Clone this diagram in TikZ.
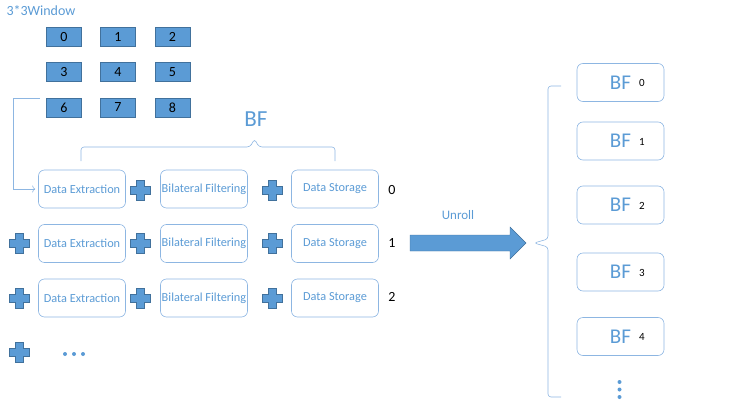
\documentclass[tikz,border=0pt]{standalone}
\usepackage{fontspec}
\setmainfont{Carlito}
\usepackage{tikz}
\usetikzlibrary{positioning,arrows.meta}

\definecolor{cellBlue}{HTML}{5B9BD5}
\definecolor{cellEdge}{HTML}{41719C}
\definecolor{boxEdge}{HTML}{8DB6E2}
\definecolor{textBlue}{HTML}{5B9BD5}

\tikzset{
    cell/.style={draw=cellEdge, fill=cellBlue, minimum width=35pt, minimum height=19pt, inner sep=0pt, font=\fontsize{14}{16}\selectfont},
    stage/.style={draw=boxEdge, line width=0.6pt, rounded corners=6pt, minimum width=87pt, minimum height=38pt, inner sep=0pt, text=textBlue, font=\fontsize{12.3}{14}\selectfont},
    bfbox/.style={draw=boxEdge, line width=0.6pt, rounded corners=6pt, minimum width=87pt, minimum height=38pt, inner sep=0pt, text=textBlue, font=\fontsize{21}{24}\selectfont},
    index/.style={font=\fontsize{14}{16}\selectfont},
    crossmark/.style={minimum size=22pt, inner sep=0pt, path picture={
        \filldraw[fill=cellBlue, draw=cellEdge, line width=0.4pt]
            ([shift={(-4,-10)}]path picture bounding box.center) -- ++(8,0) -- ++(0,6) -- ++(6,0)
            -- ++(0,8) -- ++(-6,0) -- ++(0,6) -- ++(-8,0) -- ++(0,-6) -- ++(-6,0) -- ++(0,-8) -- ++(6,0) -- cycle;}},
}

\newcommand{\bfnum}[1]{BF\rlap{\hspace{8pt}\raisebox{2.5pt}{\color{black}\fontsize{11}{13}\selectfont #1}}}

\begin{document}
\begin{tikzpicture}[x=1pt, y=-1pt]
    \useasboundingbox (0,0) rectangle (741,409);

    \node (windowTitle) at (41,10.5) [text=textBlue, font=\fontsize{14}{16}\selectfont] {3*3Window};
    \node[cell] (cell0) at (64,37) {0};
    \node[cell] (cell1) at (118,37) {1};
    \node[cell] (cell2) at (172.5,37) {2};
    \node[cell] (cell3) at (64,72) {3};
    \node[cell] (cell4) at (118,72) {4};
    \node[cell] (cell5) at (172.5,72) {5};
    \node[cell] (cell6) at (64,107.5) {6};
    \node[cell] (cell7) at (118,107.5) {7};
    \node[cell] (cell8) at (172.5,107.5) {8};
    \coordinate (windowTap) at (40,98);

    \node (bfTitle) at (256,119) [text=textBlue, font=\fontsize{23}{26}\selectfont] {BF};

    \node[stage] (extract0) at (82,189) {Data Extraction};
    \node[crossmark] (plusA0) at (140,190) {};
    \node[stage] (filter0) at (204,189) {Bilateral Filtering};
    \node[crossmark] (plusB0) at (272,190) {};
    \node[stage] (store0) at (335,189) {Data Storage};
    \node[index] (row0) at (392,190) {0};

    \node[crossmark] (plusL1) at (19,243.5) {};
    \node[stage] (extract1) at (82,243.5) {Data Extraction};
    \node[crossmark] (plusA1) at (140,243.5) {};
    \node[stage] (filter1) at (204,243.5) {Bilateral Filtering};
    \node[crossmark] (plusB1) at (272,243.5) {};
    \node[stage] (store1) at (335,243.5) {Data Storage};
    \node[index] (row1) at (392,243) {1};

    \node[crossmark] (plusL2) at (19,298) {};
    \node[stage] (extract2) at (82,298) {Data Extraction};
    \node[crossmark] (plusA2) at (140,298) {};
    \node[stage] (filter2) at (204,298) {Bilateral Filtering};
    \node[crossmark] (plusB2) at (272,298) {};
    \node[stage] (store2) at (335,298) {Data Storage};
    \node[index] (row2) at (392,297) {2};

    \node[crossmark] (plusL3) at (19,352.5) {};
    \foreach \x in {65,74,83}
        \fill[cellBlue] (\x,354) circle (2);

    \node (unrollText) at (458,215) [text=textBlue, font=\fontsize{13}{15}\selectfont] {Unroll};
    \filldraw[fill=cellBlue, draw=cellEdge, line width=0.4pt] (410,235) -- (510,235) -- (510,227) -- (526,243) -- (510,259) -- (510,251) -- (410,251) -- cycle;

    \node[bfbox] (bf0) at (620.5,82.5) {\bfnum{0}};
    \node[bfbox] (bf1) at (620.5,141) {\bfnum{1}};
    \node[bfbox] (bf2) at (620.5,205) {\bfnum{2}};
    \node[bfbox] (bf3) at (620.5,272) {\bfnum{3}};
    \node[bfbox] (bf4) at (620.5,336.5) {\bfnum{4}};
    \foreach \y in {382,389.5,397}
        \fill[cellBlue] (619.5,\y) circle (2);

\draw[boxEdge, line width=0.6pt, -{To[length=3pt, width=7pt]}, shorten >=3pt] (windowTap) -- ++(-27,0) |- (extract0.west);
\draw[boxEdge, line width=0.6pt, rounded corners=3pt] (81,161) -- (81,147) -- (250,147) -- (254.5,139) -- (259,147) -- (335,147) -- (335,161);
\draw[boxEdge, line width=0.6pt, rounded corners=3pt] (561,86) -- (548,86) -- (548,239) -- (534,243) -- (548,247) -- (548,397) -- (561,397);

\end{tikzpicture}
\end{document}
